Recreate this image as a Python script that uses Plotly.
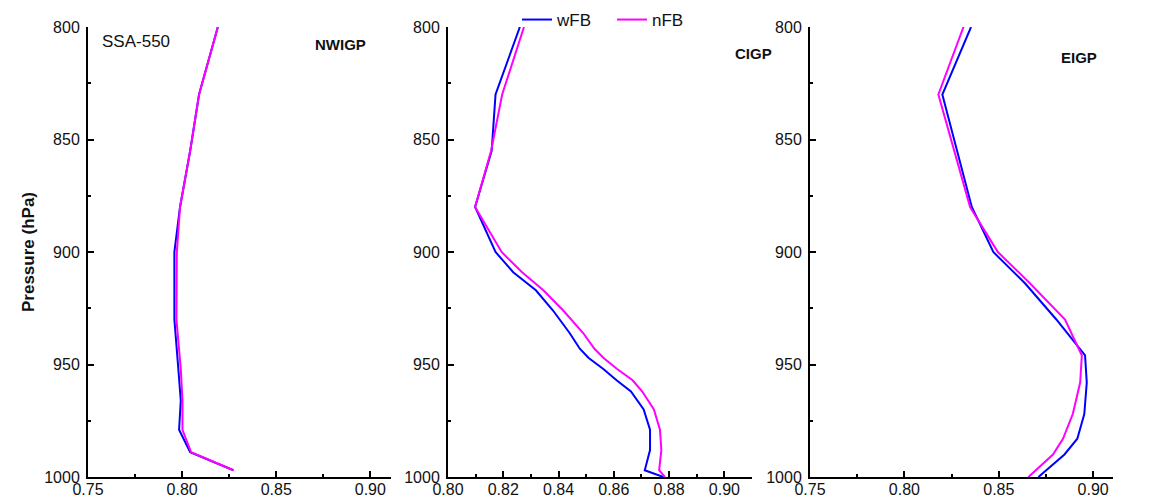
import plotly.graph_objects as go

# window is 1154x499, the page body adds an 8px margin, so the figure is 8px smaller
OFF = 8
W, H = 1154 - OFF, 499 - OFF

# ---- data ----
regions = ["NWIGP", "CIGP", "EIGP"]

p_nwigp = [800, 830, 855, 880, 900, 930, 952, 966, 979, 989, 997]
wfb_nwigp = [0.8190, 0.8090, 0.8043, 0.7989, 0.7959, 0.7959, 0.7980, 0.7993, 0.7984, 0.8043, 0.8273]
nfb_nwigp = [0.8190, 0.8090, 0.8043, 0.7989, 0.7972, 0.7970, 0.7993, 0.8002, 0.8002, 0.8048, 0.8273]

p_cigp = [800, 830, 855, 880, 900, 909, 917, 926, 936, 943, 947, 952, 957, 962, 970, 979, 988, 997, 1000]
wfb_cigp = [0.8260, 0.8172, 0.8158, 0.8098, 0.8172, 0.8236, 0.8318, 0.8380, 0.8440, 0.8477, 0.8508,
            0.8562, 0.8610, 0.8662, 0.8708, 0.8731, 0.8731, 0.8712, 0.8779]
nfb_cigp = [0.8275, 0.8196, 0.8156, 0.8098, 0.8194, 0.8268, 0.8345, 0.8417, 0.8489, 0.8530, 0.8562,
            0.8612, 0.8668, 0.8703, 0.8745, 0.8767, 0.8772, 0.8764, 0.8785]

p_eigp = [800, 830, 880, 900, 914, 930, 946, 958, 972, 983, 990, 1000]
wfb_eigp = [0.8353, 0.8201, 0.8357, 0.8471, 0.8640, 0.8805, 0.8957, 0.8966, 0.8953, 0.8916, 0.8848, 0.8710]
nfb_eigp = [0.8313, 0.8180, 0.8348, 0.8495, 0.8666, 0.8851, 0.8940, 0.8931, 0.8892, 0.8840, 0.8787, 0.8657]

series_names = ["wFB", "nFB"]
x1_ticks = [0.75, 0.80, 0.85, 0.90]
x2_ticks = [0.80, 0.82, 0.84, 0.86, 0.88, 0.90]
x3_ticks = [0.75, 0.80, 0.85, 0.90]
y_ticks = [800, 850, 900, 950, 1000]

# ---- styling ----
BLUE = "#0000FF"
MAGENTA = "#FF00FF"
FONT = "Liberation Sans, Arial, sans-serif"

def px_x(x):
    return (x - OFF) / W

def px_y(y):
    return 1 - (y - OFF) / H

fig = go.Figure()

panels = [
    (p_nwigp, wfb_nwigp, nfb_nwigp, "x", "y"),
    (p_cigp, wfb_cigp, nfb_cigp, "x2", "y2"),
    (p_eigp, wfb_eigp, nfb_eigp, "x3", "y3"),
]
for i, (p, w, n, xa, ya) in enumerate(panels):
    fig.add_trace(go.Scatter(x=w, y=p, mode="lines", name=series_names[0],
                             line=dict(color=BLUE, width=2), xaxis=xa, yaxis=ya,
                             showlegend=(i == 1)))
    fig.add_trace(go.Scatter(x=n, y=p, mode="lines", name=series_names[1],
                             line=dict(color=MAGENTA, width=2), xaxis=xa, yaxis=ya,
                             showlegend=(i == 1)))

ydom = [px_y(477), px_y(27)]
xdoms = [[px_x(88), px_x(391)], [px_x(448), px_x(752)], [px_x(810), px_x(1113)]]
xranges = [[0.75, 0.911], [0.80, 0.910], [0.75, 0.9105]]
xtickss = [x1_ticks, x2_ticks, x3_ticks]
xminors = [0.025, 0.01, 0.025]

common_axis = dict(showline=True, linecolor="black", linewidth=2, showgrid=False,
                   zeroline=False, ticks="inside", ticklen=6, tickwidth=2, tickcolor="black",
                   automargin=False,
                   tickfont=dict(family=FONT, size=16, color="#111111"))

layout = dict(
    width=W, height=H,
    margin=dict(l=0, r=0, t=0, b=0, pad=0, autoexpand=False),
    paper_bgcolor="white", plot_bgcolor="white",
    showlegend=True,
    legend=dict(orientation="h", x=px_x(517), xanchor="left", y=1 + 6 / H, yanchor="top",
                font=dict(family=FONT, size=17, color="#111111"), bgcolor="rgba(0,0,0,0)",
                itemwidth=30, tracegroupgap=0, entrywidth=50, entrywidthmode="pixels"),
)
for i in range(3):
    sfx = "" if i == 0 else str(i + 1)
    layout["xaxis" + sfx] = dict(common_axis, domain=xdoms[i], range=xranges[i],
                                 tickvals=xtickss[i], tickformat=".2f",
                                 anchor="y" + sfx, ticklabelstandoff=-3,
                                 minor=dict(ticks="inside", ticklen=3, tickwidth=2,
                                            tickcolor="black", dtick=xminors[i],
                                            tick0=xranges[i][0], showgrid=False))
    layout["yaxis" + sfx] = dict(common_axis, domain=ydom, range=[1000, 800],
                                 tickvals=y_ticks, anchor="x" + sfx,
                                 ticklabelstandoff=3,
                                 minor=dict(ticks="inside", ticklen=3, tickwidth=2,
                                            tickcolor="black", dtick=25, tick0=800,
                                            showgrid=False))
layout["yaxis"]["title"] = dict(text="<b>Pressure (hPa)</b>",
                                font=dict(family=FONT, size=17, color="#111111"),
                                standoff=5)
fig.update_layout(**layout)

annots = [
    dict(text="SSA-550", x=px_x(100), y=px_y(42), xanchor="left", size=17, bold=False),
    dict(text=regions[0], x=px_x(313), y=px_y(45), xanchor="left", size=15, bold=True),
    dict(text=regions[1], x=px_x(733), y=px_y(53), xanchor="left", size=15, bold=True),
    dict(text=regions[2], x=px_x(1059), y=px_y(57), xanchor="left", size=15, bold=True),
]
for a in annots:
    fig.add_annotation(text=("<b>%s</b>" % a["text"]) if a["bold"] else a["text"],
                       xref="paper", yref="paper", x=a["x"], y=a["y"],
                       xanchor=a["xanchor"], yanchor="middle", showarrow=False,
                       font=dict(family=FONT, size=a["size"], color="#111111"))

fig.write_html("out.html")
